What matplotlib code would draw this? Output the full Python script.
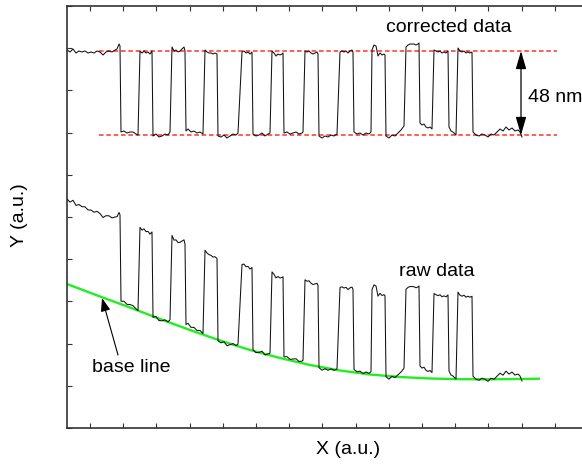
import numpy as np
import matplotlib
matplotlib.use("Agg")
import matplotlib.pyplot as plt

plt.rcParams['font.family'] = ['Liberation Sans', 'DejaVu Sans']

# ---- data (arbitrary units) ----
# corrected (baseline-subtracted) profile
corrected_x = [0, 3, 6, 9, 12, 15, 18, 21, 24, 27, 30, 33, 36, 39, 42, 45, 48, 50, 52, 53,
               54, 57, 60, 63, 66, 69, 71,
               73, 75, 77, 79, 81, 83, 85,
               86, 89, 92, 95, 98, 101, 103,
               105, 107, 109, 111, 113, 115, 117, 118,
               119, 121, 124, 127, 130, 133, 136,
               138, 140, 142, 144, 146, 148, 150,
               151, 154, 157, 160, 163, 166, 169, 171,
               175, 177, 179, 181, 183, 185,
               186, 189, 192, 195, 198, 201, 203,
               205, 207, 209, 211, 213, 215, 216,
               217, 220, 223, 226, 229, 232, 235, 236,
               238, 240, 242, 244, 246, 248, 250, 251,
               252, 255, 258, 261, 264, 267, 270,
               273, 275, 277, 279, 281, 283, 285, 286,
               287, 290, 293, 296, 299, 302, 304,
               305, 307, 309, 311, 313, 315, 317, 318,
               319, 322, 325, 328, 331, 334, 337,
               339, 341, 343, 345, 347, 349, 351, 352,
               353, 355, 357, 359, 361, 363, 365,
               367, 369, 371, 373, 375, 377, 379, 381,
               382, 384, 386, 388, 389,
               391, 393, 395, 397, 399, 401, 403, 405,
               406, 409, 412, 415, 418, 421, 424, 427, 430, 433, 436, 439, 442, 445,
               448, 451, 453, 455]
corrected_y = [358, 356, 359, 355, 357, 356, 357, 355, 356, 355, 357, 356, 353, 356, 357, 356, 358, 359, 364, 362,
               276, 277, 275, 276, 276, 274, 273,
               357, 355, 357, 355, 356, 354, 357,
               272, 274, 271, 272, 274, 273, 276,
               361, 357, 358, 356, 357, 359, 361, 357,
               277, 279, 276, 277, 275, 276, 274,
               358, 356, 355, 355, 354, 355, 354,
               272, 271, 273, 270, 272, 274, 273, 275,
               356, 357, 355, 356, 354, 356,
               274, 272, 273, 275, 272, 274, 275,
               357, 355, 352, 354, 353, 354, 355,
               275, 276, 274, 275, 276, 274, 275, 276,
               357, 356, 357, 355, 354, 355, 356, 354,
               272, 270, 272, 271, 273, 272, 274,
               356, 357, 356, 357, 355, 357, 358, 356,
               276, 274, 275, 273, 275, 274, 276,
               358, 363, 362, 352, 355, 353, 354, 353,
               272, 270, 273, 272, 275, 278, 282,
               361, 363, 364, 364, 364, 363, 364, 365,
               285, 283, 284, 281, 280, 281, 279,
               358, 357, 356, 357, 355, 356, 355, 357,
               281, 277, 276, 274, 273,
               360, 357, 356, 357, 355, 356, 355, 356,
               276, 273, 272, 274, 273, 271, 274, 273, 276, 279, 277, 281, 278, 280,
               277, 278, 276, 271]

# fitted base line under the raw trace
baseline_x = [0, 33, 63, 93, 123, 153, 183, 213, 243, 273, 303, 333, 363, 393, 423, 453, 473]
baseline_y = [124, 111.5, 100.5, 89, 78, 67.5, 58, 50, 43, 37.5, 33.5, 31, 29.5, 28.8, 28.7, 29, 29.3]

# reference levels of the corrected profile (48 nm step)
level_top = 357
level_bottom = 273
level_x = [32, 490]
step_label = "48 nm"

# raw data = corrected profile sitting on the base line
raw_y = np.array(corrected_y) - level_bottom + np.interp(corrected_x, baseline_x, baseline_y)

# ---- figure ----
W, H = 582, 467
fig = plt.figure(figsize=(W / 100, H / 100), dpi=100)
ax = fig.add_axes([67 / W, (H - 428) / H, 563 / W, 422 / H])

ax.plot(baseline_x, baseline_y, color='#22ee22', lw=1.7, solid_capstyle='butt', zorder=2)
ax.plot(corrected_x, raw_y, color='#111111', lw=0.75, zorder=3)
ax.plot(level_x, [level_top] * 2, color='#ff3030', lw=1.1, ls=(0, (3.0, 1.8)), zorder=2)
ax.plot(level_x, [level_bottom] * 2, color='#ff3030', lw=1.1, ls=(0, (3.0, 1.8)), zorder=2)
ax.plot(corrected_x, corrected_y, color='#111111', lw=0.75, zorder=3)

ax.set_xlim(0, 563)
ax.set_ylim(-20, 402)
ax.set_xticks(np.arange(23, 563, 33.2))
ax.set_yticks(np.arange(-20, 403, 42.2))
ax.tick_params(direction='in', length=3.5, width=0.8, top=True, right=True,
               labelbottom=False, labelleft=False, colors='#333333')
for s in ax.spines.values():
    s.set_linewidth(1.2)
    s.set_color('#333333')

# double arrow for the step height
ax.annotate('', xy=(454, level_top), xytext=(454, level_bottom),
            arrowprops=dict(arrowstyle='<|-|>,head_length=0.55,head_width=0.16',
                            color='black', lw=0.9, shrinkA=0, shrinkB=0, mutation_scale=20))
ax.text(461, 311, step_label, fontsize=14, ha='left', va='center')

ax.text(382, 381, 'corrected data', fontsize=14, ha='center', va='center')
ax.text(370, 137, 'raw data', fontsize=14, ha='center', va='center')
ax.text(64, 40, 'base line', fontsize=14, ha='center', va='center')
ax.annotate('', xy=(35, 110), xytext=(51, 53),
            arrowprops=dict(arrowstyle='-|>,head_length=0.5,head_width=0.18',
                            color='black', lw=0.8, shrinkA=0, shrinkB=0, mutation_scale=16))

fig.text(348 / W, 1 - 450 / H, 'X (a.u.)', fontsize=14, ha='center', va='center')
fig.text(20 / W, 1 - 215 / H, 'Y (a.u.)', fontsize=14, ha='center', va='center', rotation=90)

fig.savefig('out.png', dpi=100)
